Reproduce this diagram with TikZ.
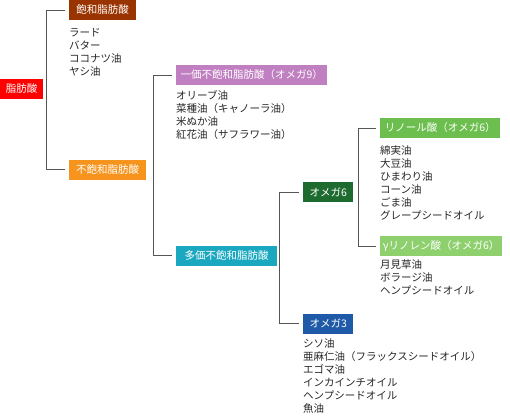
\documentclass[tikz,border=0pt]{standalone}
\usepackage{fontspec}
\setmainfont{Noto Sans CJK JP}
\definecolor{cred}{HTML}{FF0000}
\definecolor{cbrown}{HTML}{993300}
\definecolor{corange}{HTML}{F7941D}
\definecolor{cpurple}{HTML}{C07FC0}
\definecolor{cteal}{HTML}{1AA8C0}
\definecolor{cdgreen}{HTML}{1E6B30}
\definecolor{cblue}{HTML}{1F5AA8}
\definecolor{clgreen}{HTML}{6CBF4E}
\definecolor{clgreen2}{HTML}{8FD06E}
\definecolor{cline}{HTML}{555555}
\begin{document}
\begin{tikzpicture}[x=1pt,y=-1pt,
  box/.style={fill=#1,text=white,anchor=west,minimum height=20pt,inner sep=0pt,
    font=\fontsize{10.5}{12}\selectfont},
  lst/.style={anchor=base west,align=left,inner sep=0pt,text=black!85,
    font=\fontsize{10.5}{13}\selectfont},
  conn/.style={draw=cline,line width=0.9pt}]
\useasboundingbox (0,0) rectangle (510,415);
% boxes
\node[box=cred,minimum width=43pt] (fa) at (0,88.5) {脂肪酸};
\node[box=cbrown,minimum width=67pt] (sat) at (69,10) {飽和脂肪酸};
\node[box=corange,minimum width=77pt] (unsat) at (69,169.5) {不飽和脂肪酸};
\node[box=cpurple,minimum width=151pt] (mono) at (176,75) {一価不飽和脂肪酸（オメガ9）};
\node[box=cteal,minimum width=101pt] (poly) at (176,255.5) {多価不飽和脂肪酸};
\node[box=cdgreen,minimum width=50pt] (o6) at (303,192) {オメガ6};
\node[box=cblue,minimum width=50pt] (o3) at (303,323.5) {オメガ3};
\node[box=clgreen,minimum width=120pt] (lin) at (380,128) {リノール酸（オメガ6）};
\node[box=clgreen2,minimum width=122pt] (gla) at (380,246) {γリノレン酸（オメガ6）};
% lists (base = baseline of last line)
\node[lst] (l1) at (69,75.5) {ラード\\バター\\ココナツ油\\ヤシ油};
\node[lst] (l2) at (176,138.5) {オリーブ油\\菜種油（キャノーラ油）\\米ぬか油\\紅花油（サフラワー油）};
\node[lst] (l3) at (380,219) {綿実油\\大豆油\\ひまわり油\\コーン油\\ごま油\\グレープシードオイル};
\node[lst] (l4) at (380,294) {月見草油\\ボラージ油\\ヘンプシードオイル};
\node[lst] (l5) at (303,412) {シソ油\\亜麻仁油（フラックスシードオイル）\\エゴマ油\\インカインチオイル\\ヘンプシードオイル\\魚油};
% connectors
\coordinate (b1) at (50,0);
\coordinate (b2) at (157,0);
\coordinate (b3) at (283,0);
\coordinate (b4) at (362,0);
\draw[conn] ([xshift=-4pt]sat.west) -- ([xshift=-4pt]sat.west -| b1) |- ([xshift=-4pt]unsat.west);
\draw[conn] ([xshift=-4pt]mono.west) -- ([xshift=-4pt]mono.west -| b2) |- ([xshift=-4pt]poly.west);
\draw[conn] ([xshift=-4pt]o6.west) -- ([xshift=-4pt]o6.west -| b3) |- ([xshift=-4pt]o3.west);
\draw[conn] ([xshift=-4pt]lin.west) -- ([xshift=-4pt]lin.west -| b4) |- ([xshift=-4pt]gla.west);
\end{tikzpicture}
\end{document}
